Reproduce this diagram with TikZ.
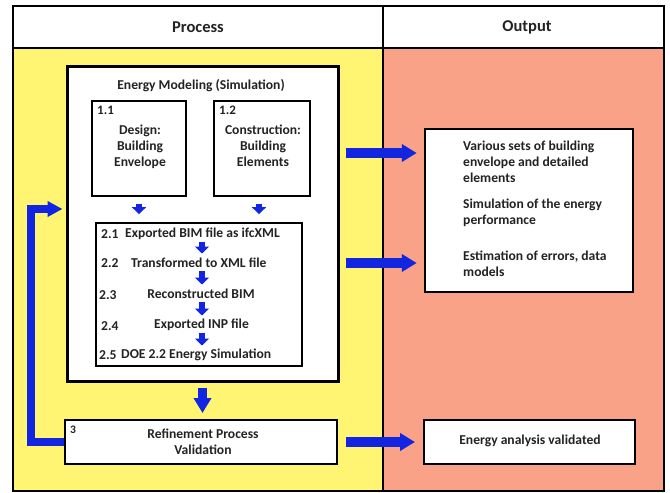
\documentclass[tikz,border=0pt]{standalone}
\usepackage{fontspec}
\setmainfont{Carlito}
\usetikzlibrary{arrows.meta}
\definecolor{yel}{RGB}{255,245,115}
\definecolor{sal}{RGB}{250,162,136}
\definecolor{arrblue}{RGB}{18,38,225}
\definecolor{txt}{RGB}{35,35,35}
\begin{document}
\begin{tikzpicture}[x=1pt,y=-1pt,
  font=\bfseries\fontsize{13.6}{16.2}\selectfont, text=txt,
  box/.style={draw=black, fill=white, line width=2pt, inner sep=0pt},
  lbl/.style={anchor=north west, inner sep=0pt, font=\bfseries\fontsize{13}{15}\selectfont},
  rowtxt/.style={inner sep=0pt},
  bigarrow/.style={draw=arrblue, line width=10pt, -{Triangle[width=17pt,length=15pt]}},
  fbarrow/.style={draw=arrblue, line width=8pt, line join=miter, -{Triangle[width=15pt,length=15pt]}},
  smallarrow/.style={draw=arrblue, line width=6pt, -{Triangle[width=14pt,length=7pt]}},
  hdr/.style={font=\bfseries\fontsize{16.5}{18}\selectfont}
]
\useasboundingbox (0,0) rectangle (670,493);
% backgrounds
\fill[white] (13,6) rectangle (664,48);
\fill[yel] (13,48) rectangle (383,491);
\fill[sal] (383,48) rectangle (664,491);
\draw[line width=1.5pt] (13,6) rectangle (664,491);
\draw[line width=2.5pt] (13,48) -- (664,48);
\draw[line width=1.5pt] (383,6) -- (383,491);
\node[hdr] (hproc) at (198,27) {Process};
\node[hdr] (hout) at (527,27) {Output};

% energy modeling box
\node[box, line width=3pt, minimum width=271pt, minimum height=315pt] (emodel) at (202.5,223.5) {};
\node (emtitle) at (201,86) {Energy Modeling (Simulation)};

\node[box, minimum width=94pt, minimum height=95pt] (b11) at (139,148.5) {};
\node[lbl] (b11l) at (97,106) {1.1};
\node[align=center] (b11t) at (140,147) {Design:\\Building\\Envelope};

\node[box, minimum width=96pt, minimum height=95pt] (b12) at (262,148.5) {};
\node[lbl] (b12l) at (219,106) {1.2};
\node[align=center] (b12t) at (263,146) {Construction:\\Building\\Elements};

\node[box, line width=1.8pt, minimum width=206pt, minimum height=143pt] (b2) at (199,294.5) {};
\node[rowtxt, anchor=west] (l21) at (101,234) {2.1};
\node[rowtxt, anchor=west] (t21) at (125,234) {Exported BIM file as ifcXML};
\node[rowtxt, anchor=west] (l22) at (101,263) {2.2};
\node[rowtxt, anchor=west] (t22) at (131,263) {Transformed to XML file};
\node[rowtxt, anchor=west] (l23) at (99,295) {2.3};
\node[rowtxt] (t23) at (201,294) {Reconstructed BIM};
\node[rowtxt, anchor=west] (l24) at (101,326) {2.4};
\node[rowtxt] (t24) at (201.5,325) {Exported INP file};
\node[rowtxt, anchor=west] (l25) at (99,355) {2.5};
\node[rowtxt, anchor=west] (t25) at (121,355) {DOE 2.2 Energy Simulation};

\coordinate (c1) at (202,234);
\coordinate (c2) at (202,263);
\coordinate (c3) at (202,294);
\coordinate (c4) at (202,325);
\coordinate (c5) at (202,355);
\foreach \a/\b in {c1/c2,c2/c3,c3/c4,c4/c5}
  \draw[smallarrow, shorten <=7.5pt, shorten >=9.5pt] (\a) -- (\b);

\draw[smallarrow, shorten <=7pt, shorten >=8pt] (b11.south) -- (b11.south |- b2.north);
\draw[smallarrow, shorten <=7pt, shorten >=8pt] ([xshift=-3pt]b12.south) -- ([xshift=-3pt]b12.south |- b2.north);

% refinement
\node[box, minimum width=272pt, minimum height=44pt] (ref) at (201,442) {};
\node[lbl, font=\bfseries\fontsize{11.5}{13}\selectfont] (refl) at (70,426) {3};
\node[align=center] (reft) at (203,442) {Refinement Process\\Validation};

\draw[bigarrow, line width=9pt, shorten <=5pt, shorten >=6pt] (emodel.south) -- (emodel.south |- ref.north);

% feedback
\coordinate (fbc) at (31,209);
\draw[fbarrow, shorten >=3pt] (ref.west) -| (fbc) -- (emodel.west |- fbc);

% output box
\node[box, line width=2.5pt, minimum width=208pt, minimum height=163pt] (out) at (529,210.5) {};
\node[anchor=west, align=left, inner sep=0pt] (o1) at (463,161.5) {Various sets of building\\envelope and detailed\\elements};
\node[anchor=west, align=left, inner sep=0pt] (o2) at (463,213) {Simulation of the energy\\performance};
\node[anchor=west, align=left, inner sep=0pt] (o3) at (463,263.5) {Estimation of errors, data\\models};

\node[box, minimum width=211pt, minimum height=44pt] (val) at (529.5,442) {};
\node (valt) at (530,441) {Energy analysis validated};

\coordinate (a1) at (338,153);
\coordinate (a2) at (338,263);
\draw[bigarrow, shorten <=8pt, shorten >=7pt] (a1) -- (out.west |- a1);
\draw[bigarrow, shorten <=8pt, shorten >=7pt] (a2) -- (out.west |- a2);
\draw[bigarrow, shorten <=8pt, shorten >=8pt] (ref.east) -- (val.west);
\end{tikzpicture}
\end{document}
